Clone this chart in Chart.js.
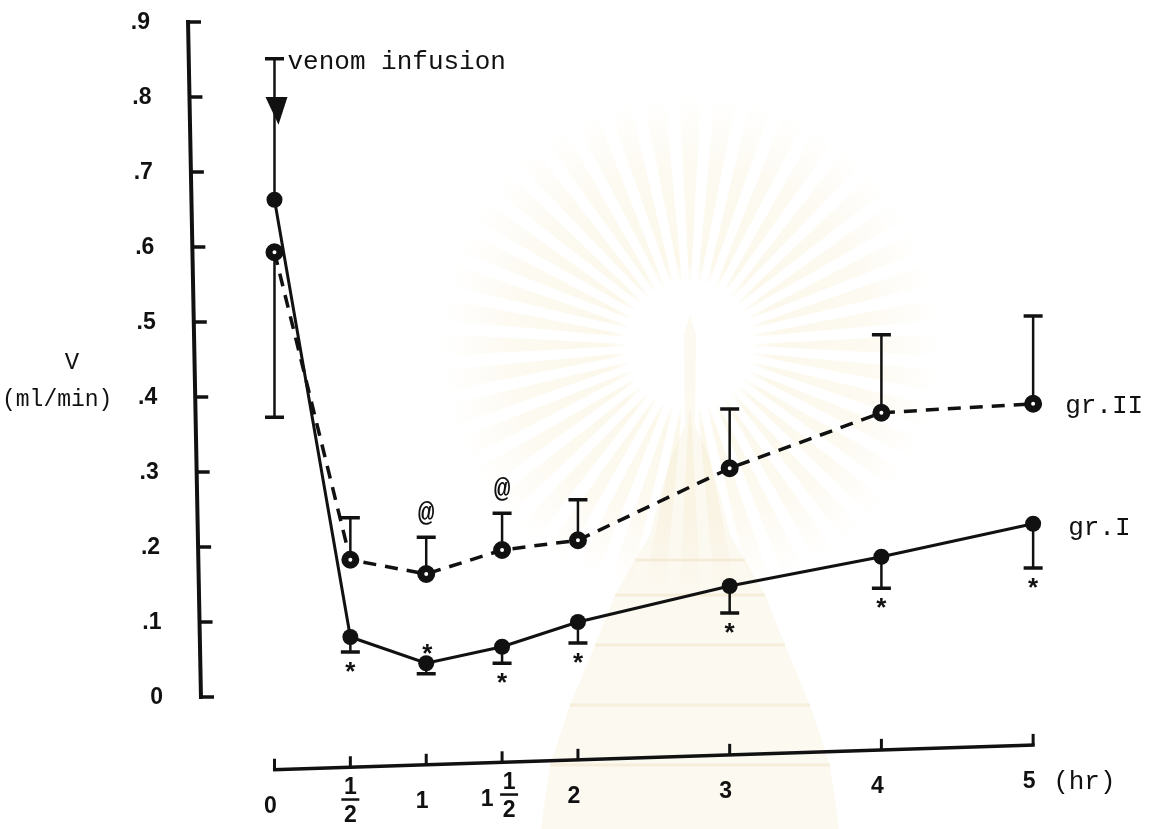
<!DOCTYPE html>
<html>
<head>
<meta charset="utf-8">
<title>Urine flow after venom infusion</title>
<script src="https://cdn.jsdelivr.net/npm/chart.js@4.4.1/dist/chart.umd.min.js"></script>
<style>
  html, body { margin: 0; padding: 0; background: #fff; }
  #wrap { width: 1157px; height: 829px; position: relative; }
  canvas { display: block; }
</style>
</head>
<body>
<div id="wrap"><canvas id="chart" width="1157" height="829"></canvas></div>
<script>
// ---- data -------------------------------------------------------------
const hours = [0, 0.5, 1, 1.5, 2, 3, 4, 5];

const hourTicks = [0, 0.5, 1, 1.5, 2, 3, 4, 5];
const hourTickLabels = ['0', '1/2', '1', '1 1/2', '2', '3', '4', '5'];
const hourUnit = '(hr)';

const flowTicks = [0, 0.1, 0.2, 0.3, 0.4, 0.5, 0.6, 0.7, 0.8, 0.9];
const flowTickLabels = ['0', '.1', '.2', '.3', '.4', '.5', '.6', '.7', '.8', '.9'];
const flowTitle = ['V', '(ml/min)'];

// group I: mean urine flow (ml/min) and SD
const grI = [0.663, 0.080, 0.045, 0.067, 0.100, 0.148, 0.187, 0.231];
const grISd = [0.188, 0.020, 0.014, 0.022, 0.028, 0.036, 0.042, 0.059];
const grISdSide = [1, -1, -1, -1, -1, -1, -1, -1];
const grIMarks = ['', 'below', 'above', 'below', 'below', 'below', 'below', 'below'];

// group II: mean urine flow (ml/min) and SD
const grII = [0.593, 0.183, 0.164, 0.196, 0.209, 0.305, 0.379, 0.391];
const grIISd = [0.220, 0.056, 0.049, 0.049, 0.054, 0.079, 0.104, 0.117];
const grIISdSide = [-1, 1, 1, 1, 1, 1, 1, 1];
const grIIMarks = ['', '', '@', '@', '', '', '', ''];

const seriesNames = ['gr.I', 'gr.II'];
const eventLabel = 'venom infusion';
const eventHour = 0;

// ---- styling ----------------------------------------------------------
const INK = '#111';
const MONO = '"Liberation Mono", "DejaVu Sans Mono", monospace';
const SANS = '"Liberation Sans", Arial, sans-serif';
const NUM_FONT = 'bold 23px ' + SANS;
const Y_AXIS_LEAN = 13 / 675;     // hand-ruled axis leans slightly
const X_AXIS_LEVEL = -0.097;      // x axis sits below the zero line
const X_AXIS_RISE = 25 / 763;

function pts(ys) { return hours.map((h, i) => ({ x: h, y: ys[i] })); }

// faint emblem in the page background
function drawEmblem(ctx) {
  const cx = 690, cy = 345;
  ctx.save();
  const g = ctx.createRadialGradient(cx, cy, 55, cx, cy, 250);
  g.addColorStop(0, 'rgba(240,222,165,0)');
  g.addColorStop(0.15, 'rgba(240,222,165,0.22)');
  g.addColorStop(0.65, 'rgba(240,222,165,0.15)');
  g.addColorStop(1, 'rgba(240,222,165,0)');
  ctx.fillStyle = g;
  const n = 44;
  for (let k = 0; k < n; k++) {
    const a = (k / n) * Math.PI * 2;
    const w = (Math.PI / n) * 0.6;
    const r0 = 65, r1 = 250;
    ctx.beginPath();
    ctx.moveTo(cx + r0 * Math.cos(a - w * 0.4), cy + r0 * Math.sin(a - w * 0.4));
    ctx.lineTo(cx + r1 * Math.cos(a - w), cy + r1 * Math.sin(a - w));
    ctx.lineTo(cx + r1 * Math.cos(a + w), cy + r1 * Math.sin(a + w));
    ctx.lineTo(cx + r0 * Math.cos(a + w * 0.4), cy + r0 * Math.sin(a + w * 0.4));
    ctx.closePath();
    ctx.fill();
  }
  // white halo
  ctx.fillStyle = 'rgba(255,255,255,0.9)';
  ctx.beginPath(); ctx.arc(cx, cy, 62, 0, Math.PI * 2); ctx.fill();
  // spire and tiered body
  const body = [
    [0, -30], [6, -10], [5, 80], [18, 110], [30, 150], [40, 190], [55, 215],
    [75, 250], [95, 300], [120, 360], [140, 420], [150, 490],
    [-150, 490], [-140, 420], [-120, 360], [-95, 300], [-75, 250], [-55, 215],
    [-40, 190], [-30, 150], [-18, 110], [-5, 80], [-6, -10]
  ];
  ctx.fillStyle = 'rgba(236,214,160,0.15)';
  ctx.beginPath();
  body.forEach(([dx, dy], i) => i ? ctx.lineTo(cx + dx, cy + dy) : ctx.moveTo(cx + dx, cy + dy));
  ctx.closePath();
  ctx.fill();
  ctx.strokeStyle = 'rgba(225,200,140,0.22)';
  ctx.lineWidth = 3;
  [215, 250, 300, 360, 420].forEach(dy => {
    const half = body.find(p => p[1] === dy)[0];
    ctx.beginPath(); ctx.moveTo(cx - half, cy + dy); ctx.lineTo(cx + half, cy + dy); ctx.stroke();
  });
  ctx.restore();
}

const backgroundPlugin = {
  id: 'paper',
  beforeDraw(chart) {
    const ctx = chart.ctx;
    ctx.save();
    ctx.fillStyle = '#fff';
    ctx.fillRect(0, 0, chart.width, chart.height);
    ctx.restore();
    drawEmblem(ctx);
  }
};

// axes, error bars and annotations
const figurePlugin = {
  id: 'figure',
  beforeDatasetsDraw(chart) {
    const ctx = chart.ctx, xs = chart.scales.x, ys = chart.scales.y, a = chart.chartArea;
    ctx.save();
    ctx.strokeStyle = INK; ctx.fillStyle = INK;

    // y axis
    const yTop = ys.getPixelForValue(flowTicks[flowTicks.length - 1]);
    const yBot = ys.getPixelForValue(flowTicks[0]);
    const axX = py => a.left + (py - yTop) * Y_AXIS_LEAN;
    ctx.lineWidth = 4;
    ctx.beginPath(); ctx.moveTo(axX(yTop), yTop - 2); ctx.lineTo(axX(yBot), yBot + 2); ctx.stroke();
    ctx.lineWidth = 3.5;
    ctx.font = NUM_FONT;
    ctx.textAlign = 'right'; ctx.textBaseline = 'middle';
    flowTicks.forEach((v, i) => {
      const py = ys.getPixelForValue(v);
      ctx.beginPath(); ctx.moveTo(axX(py) - 1, py); ctx.lineTo(axX(py) + 13, py); ctx.stroke();
      ctx.fillText(flowTickLabels[i], axX(py) - 38, py + 1);
    });

    // y title
    const yFour = ys.getPixelForValue(0.4);
    ctx.font = '24px ' + MONO;
    ctx.textAlign = 'center';
    ctx.fillText(flowTitle[0], 72, yFour - 34);
    ctx.textAlign = 'left';
    ctx.font = '23px ' + MONO;
    ctx.fillText(flowTitle[1], 2, yFour + 3);

    // x axis
    const x0 = xs.getPixelForValue(hourTicks[0]);
    const x1 = xs.getPixelForValue(hourTicks[hourTicks.length - 1]);
    const base = ys.getPixelForValue(X_AXIS_LEVEL);
    const axY = px => base - (px - x0) * X_AXIS_RISE;
    ctx.lineWidth = 3.5;
    ctx.beginPath(); ctx.moveTo(x0 - 1.5, axY(x0)); ctx.lineTo(x1 + 1.5, axY(x1)); ctx.stroke();
    ctx.lineWidth = 3;
    ctx.font = NUM_FONT;
    ctx.textBaseline = 'middle';
    hourTicks.forEach((h, i) => {
      const px = xs.getPixelForValue(h);
      const py = axY(px);
      ctx.beginPath(); ctx.moveTo(px, py + 1); ctx.lineTo(px, py - 11); ctx.stroke();
      const lab = hourTickLabels[i];
      ctx.textAlign = 'center';
      if (lab.includes('/')) {
        const parts = lab.split(' ');
        const frac = parts[parts.length - 1].split('/');
        let fx = px;
        if (parts.length > 1) {
          ctx.fillText(parts[0], px - 15, py + 37);
          fx = px + 7;
        }
        ctx.fillText(frac[0], fx, py + 20);
        ctx.fillRect(fx - 9, py + 31, 18, 2.5);
        ctx.fillText(frac[1], fx, py + 48);
      } else {
        ctx.fillText(lab, px - 4, py + 37);
      }
      if (i === hourTicks.length - 1) {
        ctx.textAlign = 'left';
        ctx.font = '26px ' + MONO;
        ctx.fillText(hourUnit, px + 20, py + 37);
        ctx.font = NUM_FONT;
      }
    });

    // SD bars
    const bars = [[grI, grISd, grISdSide], [grII, grIISd, grIISdSide]];
    bars.forEach(([m, sd, side]) => {
      hours.forEach((h, i) => {
        const px = xs.getPixelForValue(h);
        const p0 = ys.getPixelForValue(m[i]);
        const p1 = ys.getPixelForValue(m[i] + side[i] * sd[i]);
        ctx.lineWidth = 2.5;
        ctx.beginPath(); ctx.moveTo(px, p0); ctx.lineTo(px, p1); ctx.stroke();
        ctx.lineWidth = 3.5;
        ctx.beginPath(); ctx.moveTo(px - 9.5, p1); ctx.lineTo(px + 9.5, p1); ctx.stroke();
      });
    });
    ctx.restore();
  },
  afterDatasetsDraw(chart) {
    const ctx = chart.ctx, xs = chart.scales.x, ys = chart.scales.y;
    ctx.save();
    ctx.fillStyle = INK;

    // significance marks
    const STAR = 'bold 26px ' + SANS, AT = 'bold 28px ' + MONO;
    ctx.textAlign = 'center';
    hours.forEach((h, i) => {
      const px = xs.getPixelForValue(h);
      ctx.font = STAR; ctx.textBaseline = 'alphabetic';
      if (grIMarks[i] === 'below') {
        const pe = ys.getPixelForValue(grI[i] - grISd[i]);
        ctx.fillText('*', px, pe + 13 + 15);
      } else if (grIMarks[i] === 'above') {
        const pm = ys.getPixelForValue(grI[i]);
        ctx.fillText('*', px + 1, pm - 16 + 15);
      }
      if (grIIMarks[i]) {
        const pe = ys.getPixelForValue(grII[i] + grIISd[i]);
        ctx.font = AT; ctx.textBaseline = 'middle';
        ctx.fillText(grIIMarks[i], px, pe - 23);
      }
    });

    // infusion arrow and label
    const ex = xs.getPixelForValue(eventHour);
    const capY = ys.getPixelForValue(grI[0] + grISd[0]);
    const aTop = ys.getPixelForValue(0.800), aTip = ys.getPixelForValue(0.763);
    ctx.beginPath();
    ctx.moveTo(ex - 9, aTop); ctx.lineTo(ex + 13, aTop); ctx.lineTo(ex + 4, aTip);
    ctx.closePath(); ctx.fill();
    ctx.font = '26px ' + MONO;
    ctx.textAlign = 'left'; ctx.textBaseline = 'middle';
    ctx.fillText(eventLabel, ex + 13, capY + 3);

    // series labels
    const last = hours.length - 1;
    const lx = xs.getPixelForValue(hours[last]);
    ctx.fillText(seriesNames[1], lx + 32, ys.getPixelForValue(grII[last]) + 2);
    ctx.fillText(seriesNames[0], lx + 35, ys.getPixelForValue(grI[last]) + 4);
    ctx.restore();
  }
};

new Chart(document.getElementById('chart'), {
  type: 'line',
  data: {
    datasets: [
      {
        label: seriesNames[0],
        data: pts(grI),
        borderColor: INK,
        borderWidth: 3,
        pointRadius: 8,
        pointBackgroundColor: INK,
        pointBorderColor: INK,
        pointBorderWidth: 0,
        tension: 0,
        clip: false
      },
      {
        label: seriesNames[1],
        data: pts(grII),
        borderColor: INK,
        borderWidth: 3.5,
        borderDash: [13, 9],
        pointRadius: 5.5,
        pointBackgroundColor: '#fff',
        pointBorderColor: INK,
        pointBorderWidth: 7,
        tension: 0,
        clip: false
      }
    ]
  },
  options: {
    responsive: false,
    animation: false,
    devicePixelRatio: 1,
    layout: { padding: { left: 188, right: 7, top: 22, bottom: 132 } },
    plugins: { legend: { display: false }, tooltip: { enabled: false } },
    events: [],
    scales: {
      x: { type: 'linear', min: -0.570, max: 5.734, display: false },
      y: { type: 'linear', min: 0, max: 0.9, display: false }
    }
  },
  plugins: [backgroundPlugin, figurePlugin]
});
</script>
</body>
</html>
